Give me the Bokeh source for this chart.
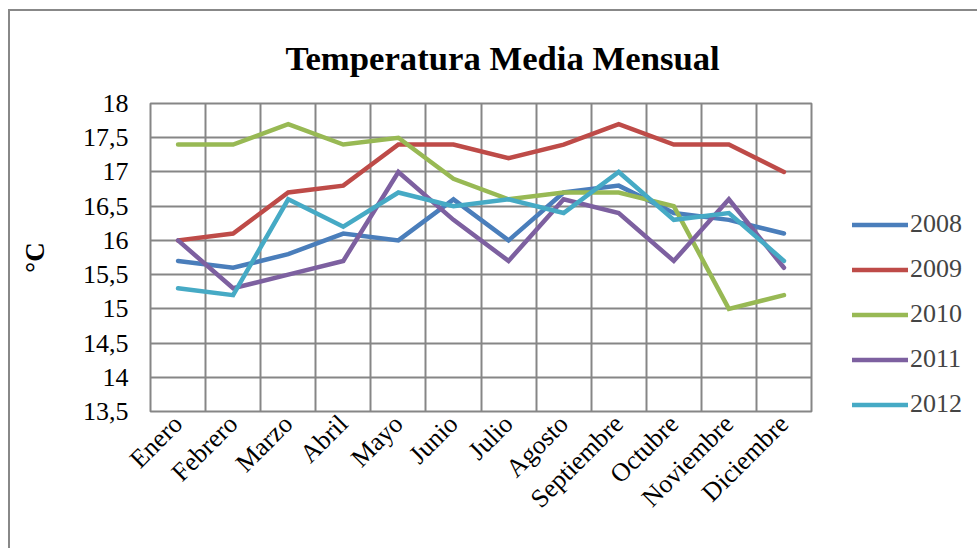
import math
from bokeh.plotting import figure
from bokeh.models import FixedTicker, CustomJSTickFormatter, Legend, LegendItem, Range1d
from bokeh.embed import file_html
from bokeh.resources import INLINE

months = ["Enero", "Febrero", "Marzo", "Abril", "Mayo", "Junio", "Julio",
          "Agosto", "Septiembre", "Octubre", "Noviembre", "Diciembre"]
series_names = ["2008", "2009", "2010", "2011", "2012"]
t2008 = [15.7, 15.6, 15.8, 16.1, 16.0, 16.6, 16.0, 16.7, 16.8, 16.4, 16.3, 16.1]
t2009 = [16.0, 16.1, 16.7, 16.8, 17.4, 17.4, 17.2, 17.4, 17.7, 17.4, 17.4, 17.0]
t2010 = [17.4, 17.4, 17.7, 17.4, 17.5, 16.9, 16.6, 16.7, 16.7, 16.5, 15.0, 15.2]
t2011 = [16.0, 15.3, 15.5, 15.7, 17.0, 16.3, 15.7, 16.6, 16.4, 15.7, 16.6, 15.6]
t2012 = [15.3, 15.2, 16.6, 16.2, 16.7, 16.5, 16.6, 16.4, 17.0, 16.3, 16.4, 15.7]
y_ticks = [13.5, 14.0, 14.5, 15.0, 15.5, 16.0, 16.5, 17.0, 17.5, 18.0]
colors = ["#4A7EBB", "#BE4B48", "#98B954", "#7D60A0", "#46AAC5"]

FONT = "Liberation Serif"

p = figure(frame_width=661, frame_height=308, output_backend="svg", toolbar_location=None,
           x_range=Range1d(0, 12), y_range=Range1d(13.5, 18),
           min_border_left=140, min_border_top=92, min_border_right=10,
           min_border_bottom=137)

p.title.text = "Temperatura Media Mensual"
p.title.align = "left"
p.title.text_font = FONT
p.title.text_font_size = "34.7px"
p.title.text_font_style = "bold"
p.title.text_color = "black"
p.title.offset = 135
p.title.standoff = 51

x_centers = [i + 0.5 for i in range(len(months))]
renderers = []
for name, vals, c in zip(series_names, [t2008, t2009, t2010, t2011, t2012], colors):
    r = p.line(x_centers, vals, line_color=c, line_width=4.5, line_cap="round",
               line_join="miter")
    renderers.append((name, r))

# axes
p.xaxis.ticker = FixedTicker(ticks=x_centers)
p.xaxis.major_label_overrides = {x: m for x, m in zip(x_centers, months)}
p.xaxis.major_label_orientation = math.pi / 4
p.yaxis.ticker = FixedTicker(ticks=y_ticks)
p.yaxis.formatter = CustomJSTickFormatter(code="return tick.toString().replace('.', ',');")
for ax in (p.xaxis[0], p.yaxis[0]):
    ax.major_label_text_font = FONT
    ax.major_label_text_font_size = "26px"
    ax.major_label_text_color = "black"
    ax.major_tick_line_color = None
    ax.minor_tick_line_color = None
    ax.major_tick_out = 0
    ax.major_tick_in = 0
    ax.axis_line_color = None
p.yaxis.axis_label = "°C"
p.yaxis.axis_label_text_font = FONT
p.yaxis.axis_label_text_font_size = "27px"
p.yaxis.axis_label_text_font_style = "bold"
p.yaxis.axis_label_text_color = "black"
p.yaxis.axis_label_standoff = 30
p.yaxis.major_label_standoff = 22
p.xaxis.major_label_standoff = 8

# grid
p.xgrid.ticker = FixedTicker(ticks=list(range(13)))
p.ygrid.ticker = FixedTicker(ticks=y_ticks)
for g in (p.xgrid[0], p.ygrid[0]):
    g.grid_line_color = "#868686"
    g.grid_line_width = 2
p.outline_line_color = "#868686"
p.outline_line_width = 2

legend = Legend(items=[LegendItem(label=n, renderers=[r]) for n, r in renderers],
                location=(41, -8))
legend.label_text_font = FONT
legend.label_text_font_size = "26px"
legend.glyph_width = 56
legend.glyph_height = 25
legend.label_height = 25
legend.spacing = 15
legend.label_standoff = 2
legend.border_line_color = None
legend.background_fill_alpha = 0
legend.padding = 0
legend.margin = 0
p.add_layout(legend, "right")

p.styles = {"margin-left": "8px", "margin-top": "9px",
            "border-left": "2px solid #888888", "border-top": "2px solid #888888"}

open("out.html", "w").write(file_html(p, INLINE))
